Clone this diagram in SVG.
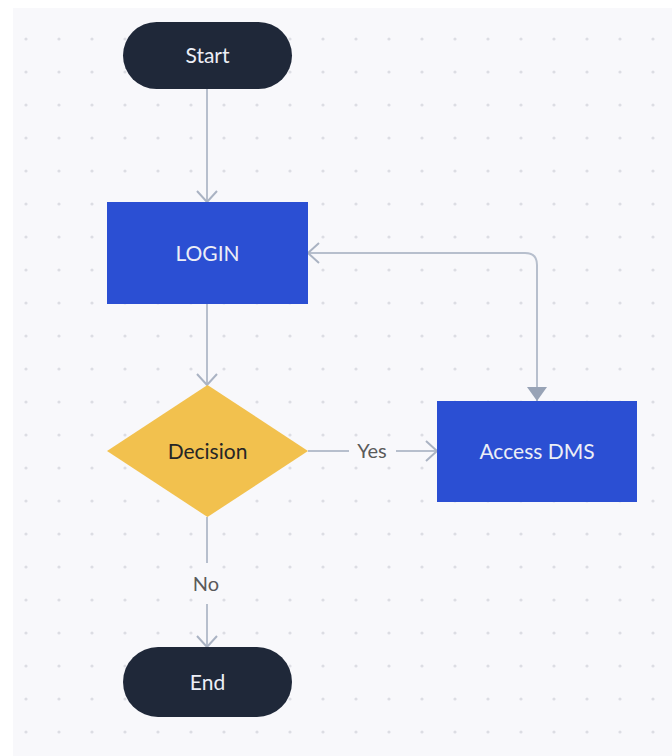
<svg xmlns="http://www.w3.org/2000/svg" width="672" height="756" viewBox="0 0 672 756">
<defs>
<pattern id="dots" x="0" y="0" width="33" height="33" patternUnits="userSpaceOnUse" patternTransform="translate(26 6)">
<circle cx="0" cy="0" r="1.6" fill="#dcdde3"/><circle cx="33" cy="0" r="1.6" fill="#dcdde3"/><circle cx="0" cy="33" r="1.6" fill="#dcdde3"/><circle cx="33" cy="33" r="1.6" fill="#dcdde3"/>
</pattern>
<marker id="open" viewBox="-14 -12 16 24" refX="0" refY="0" markerWidth="16" markerHeight="24" markerUnits="userSpaceOnUse" orient="auto">
<path d="M-11,-10 L0,0 L-11,10" fill="none" stroke="#aab3c3" stroke-width="2"/>
</marker>
<marker id="filled" viewBox="-15 -11 16 22" refX="0" refY="0" markerWidth="16" markerHeight="22" markerUnits="userSpaceOnUse" orient="auto-start-reverse">
<path d="M-14,-10 L0,0 L-14,10 Z" fill="#98a3b6"/>
</marker>
</defs>
<style>
.lbl{font-family:Lato,"Liberation Sans",sans-serif;text-anchor:middle}
.light{fill:#eceef6;font-size:21px}
.dark{fill:#262626;font-size:21px}
.edge{fill:#5a5a5a;font-size:20px}
.conn{fill:none;stroke:#b7bfcd;stroke-width:2}
</style>
<rect x="0" y="0" width="672" height="756" fill="#ffffff"/>
<rect x="13" y="8" width="659" height="748" fill="#f8f8fb"/>
<rect x="13" y="8" width="659" height="748" fill="url(#dots)"/>
<g id="connectors">
<path class="conn" d="M207,89 L207,202" marker-end="url(#open)"/>
<path class="conn" d="M207,304 L207,385" marker-end="url(#open)"/>
<path class="conn" d="M308,451 L349,451"/>
<path class="conn" d="M396,451 L437,451" marker-end="url(#open)"/>
<path class="conn" d="M207,517 L207,563"/>
<path class="conn" d="M207,604 L207,647" marker-end="url(#open)"/>
<path class="conn" d="M537,401 L537,265 Q537,253 525,253 L308,253" marker-start="url(#filled)" marker-end="url(#open)"/>
<text class="lbl edge" x="372" y="458">Yes</text>
<text class="lbl edge" x="206" y="591">No</text>
</g>
<g id="start">
<rect x="123" y="22" width="169" height="67" rx="33.5" fill="#1f2839"/>
<text class="lbl light" x="207.5" y="63">Start</text>
</g>
<g id="login">
<rect x="107" y="202" width="201" height="102" fill="#2b4fd3"/>
<text class="lbl light" x="207.5" y="261">LOGIN</text>
</g>
<g id="decision">
<polygon points="207.5,385 308,451 207.5,517 107,451" fill="#f2c14e"/>
<text class="lbl dark" x="207.5" y="459">Decision</text>
</g>
<g id="access">
<rect x="437" y="401" width="200" height="101" fill="#2b4fd3"/>
<text class="lbl light" x="537" y="459">Access DMS</text>
</g>
<g id="end">
<rect x="123" y="647" width="169" height="70" rx="35" fill="#1f2839"/>
<text class="lbl light" x="207.5" y="690">End</text>
</g>
</svg>
